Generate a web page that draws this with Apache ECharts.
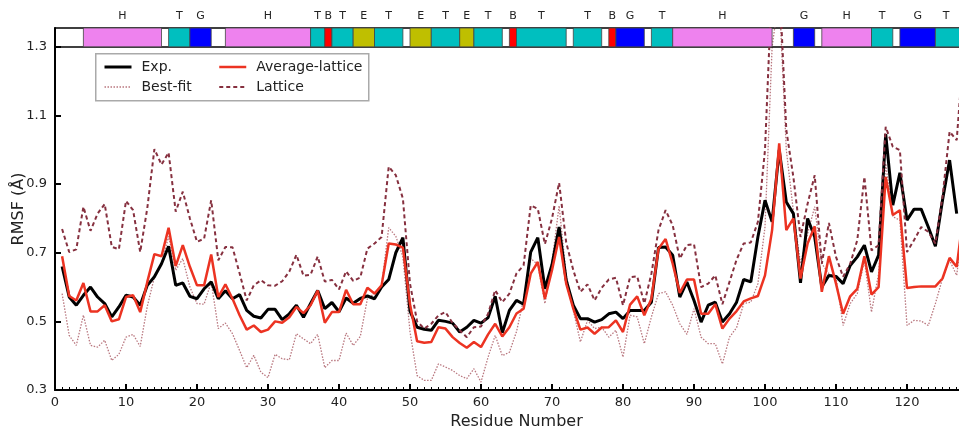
<!DOCTYPE html>
<html>
<head>
<meta charset="utf-8">
<title>RMSF</title>
<script src="https://cdn.jsdelivr.net/npm/echarts@6.0.0/dist/echarts.min.js"></script>
<style>
  html, body { margin: 0; padding: 0; background: #fff; }
  #ch { width: 959px; height: 426px; }
</style>
</head>
<body>
<div id="ch"></div>
<script>
// residue 1 is the first value of every series
var firstResidue = 1;

var expValues = [
  0.66, 0.571, 0.547, 0.576, 0.60, 0.571, 0.552, 0.513, 0.542, 0.576,
  0.571, 0.547, 0.605, 0.63, 0.668, 0.719, 0.605, 0.612, 0.573, 0.566,
  0.595, 0.615, 0.566, 0.589, 0.566, 0.578, 0.532, 0.515, 0.51, 0.535,
  0.535, 0.505, 0.522, 0.547, 0.512, 0.552, 0.59, 0.537, 0.555, 0.528,
  0.568, 0.553, 0.567, 0.574, 0.566, 0.60, 0.622, 0.70, 0.744, 0.53,
  0.483, 0.477, 0.474, 0.503, 0.50, 0.495, 0.469, 0.483, 0.503, 0.495,
  0.511, 0.573, 0.467, 0.532, 0.561, 0.55, 0.702, 0.744, 0.595, 0.665,
  0.775, 0.62, 0.547, 0.508, 0.508, 0.498, 0.505, 0.522, 0.527, 0.508,
  0.532, 0.532, 0.532, 0.556, 0.715, 0.717, 0.693, 0.571, 0.615, 0.561,
  0.498, 0.547, 0.556, 0.498, 0.522, 0.556, 0.622, 0.615, 0.746, 0.853,
  0.79, 1.0, 0.848, 0.814, 0.612, 0.80, 0.746, 0.60, 0.634, 0.631,
  0.61, 0.663, 0.688, 0.722, 0.644, 0.693, 1.046, 0.839, 0.933, 0.795,
  0.827, 0.827, 0.775, 0.719, 0.853, 0.97, 0.814
];

var bestFitValues = [
  0.581, 0.459, 0.43, 0.518, 0.43, 0.425, 0.445, 0.386, 0.404, 0.454,
  0.462, 0.427, 0.544, 0.629, 0.668, 0.748, 0.649, 0.683, 0.60, 0.552,
  0.55, 0.615, 0.479, 0.495, 0.464, 0.415, 0.365, 0.401, 0.352, 0.336,
  0.404, 0.391, 0.388, 0.464, 0.449, 0.435, 0.462, 0.365, 0.386, 0.386,
  0.466, 0.43, 0.456, 0.566, 0.581, 0.605, 0.773, 0.748, 0.688, 0.47,
  0.342, 0.328, 0.328, 0.376, 0.367, 0.357, 0.342, 0.333, 0.362, 0.323,
  0.396, 0.459, 0.40, 0.41, 0.47, 0.565, 0.683, 0.666, 0.552, 0.673,
  0.837, 0.635, 0.532, 0.44, 0.503, 0.479, 0.483, 0.454, 0.474, 0.396,
  0.518, 0.513, 0.435, 0.513, 0.581, 0.586, 0.547, 0.493, 0.462, 0.537,
  0.454, 0.435, 0.435, 0.376, 0.454, 0.482, 0.552, 0.556, 0.61, 0.775,
  1.3, 1.45, 1.0, 0.82, 0.668, 0.756, 0.834, 0.668, 0.639, 0.629,
  0.488, 0.552, 0.581, 0.678, 0.527, 0.639, 0.96, 0.805, 0.795, 0.488,
  0.503, 0.501, 0.488, 0.552, 0.625, 0.678, 0.634, 0.8
];

var avgLatticeValues = [
  0.69, 0.574, 0.561, 0.612, 0.529, 0.529, 0.547, 0.50, 0.506, 0.571,
  0.576, 0.527, 0.615, 0.696, 0.69, 0.773, 0.661, 0.722, 0.659, 0.605,
  0.605, 0.695, 0.571, 0.608, 0.566, 0.518, 0.476, 0.488, 0.469, 0.476,
  0.50, 0.496, 0.512, 0.542, 0.524, 0.547, 0.59, 0.496, 0.527, 0.527,
  0.592, 0.55, 0.55, 0.598, 0.581, 0.605, 0.727, 0.724, 0.715, 0.55,
  0.442, 0.438, 0.44, 0.483, 0.479, 0.454, 0.437, 0.423, 0.44, 0.425,
  0.462, 0.493, 0.456, 0.483, 0.523, 0.537, 0.639, 0.673, 0.566, 0.649,
  0.746, 0.61, 0.537, 0.476, 0.482, 0.464, 0.482, 0.483, 0.503, 0.469,
  0.549, 0.573, 0.518, 0.566, 0.712, 0.74, 0.668, 0.583, 0.622, 0.622,
  0.522, 0.522, 0.55, 0.479, 0.508, 0.53, 0.558, 0.567, 0.574, 0.634,
  0.766, 1.019, 0.766, 0.80, 0.625, 0.727, 0.777, 0.586, 0.69, 0.61,
  0.522, 0.573, 0.595, 0.69, 0.578, 0.60, 0.921, 0.81, 0.824, 0.597,
  0.60, 0.602, 0.602, 0.602, 0.625, 0.685, 0.659, 0.82
];

var latticeValues = [
  0.769, 0.702, 0.71, 0.834, 0.764, 0.814, 0.842, 0.717, 0.71, 0.851,
  0.824, 0.702, 0.83, 1.002, 0.957, 0.992, 0.82, 0.878, 0.80, 0.732,
  0.741, 0.853, 0.678, 0.717, 0.716, 0.64, 0.561, 0.605, 0.62, 0.605,
  0.604, 0.617, 0.645, 0.694, 0.633, 0.636, 0.689, 0.616, 0.621, 0.593,
  0.646, 0.618, 0.628, 0.712, 0.727, 0.746, 0.951, 0.926, 0.858, 0.61,
  0.50, 0.479, 0.493, 0.517, 0.527, 0.495, 0.474, 0.454, 0.483, 0.485,
  0.522, 0.591, 0.556, 0.581, 0.64, 0.663, 0.838, 0.828, 0.725, 0.80,
  0.904, 0.73, 0.649, 0.586, 0.608, 0.561, 0.598, 0.622, 0.627, 0.547,
  0.629, 0.631, 0.552, 0.639, 0.766, 0.824, 0.78, 0.683, 0.722, 0.725,
  0.60, 0.61, 0.634, 0.55, 0.615, 0.68, 0.727, 0.73, 0.79, 1.0,
  1.5, 1.5, 1.058, 0.92, 0.746, 0.843, 0.926, 0.668, 0.787, 0.688,
  0.63, 0.668, 0.737, 0.921, 0.707, 0.722, 1.067, 1.009, 0.999, 0.702,
  0.737, 0.775, 0.761, 0.727, 0.863, 1.053, 1.028, 1.3
];

// secondary structure strip (residue ranges)
var ssStart = [4, 16, 19, 24, 36, 38, 39, 42, 45, 50, 53, 57, 59, 64, 65, 73, 78, 79, 84, 87, 104, 108, 115, 119, 124];
var ssEnd   = [15, 19, 22, 36, 38, 39, 42, 45, 49, 53, 57, 59, 63, 65, 72, 77, 79, 83, 87, 101, 107, 115, 118, 124, 128];
var ssType  = ['H', 'T', 'G', 'H', 'T', 'B', 'T', 'E', 'T', 'E', 'T', 'E', 'T', 'B', 'T', 'T', 'B', 'G', 'T', 'H', 'G', 'H', 'T', 'G', 'T'];

var yTicks = [0.3, 0.5, 0.7, 0.9, 1.1, 1.3];
var xTickStep = 10;

var ssColors = { H: '#ee82ee', T: '#00bfbf', G: '#0000ff', B: '#ff0000', E: '#bfbf00' };
var yMin = 0.3, yMax = 1.355, xMax = 130, visibleMax = 127;
var font = 'DejaVu Sans';

var lineStyles = {
  'Exp.': { color: '#000', width: 3 },
  'Best-fit': { color: '#b9777f', width: 1.3, type: [1.5, 1.5] },
  'Average-lattice': { color: '#ec3322', width: 2.5 },
  'Lattice': { color: '#86303f', width: 2, type: [4, 3] }
};

function pairs(values) {
  return values.map(function (v, i) { return [firstResidue + i, v]; });
}

var chart = echarts.init(document.getElementById('ch'), null, { renderer: 'canvas' });

// legend columns share the same look
function legendCol(left, names) {
  return {
    left: left, top: 55, orient: 'vertical', itemGap: 6, z: 20,
    itemWidth: 27, itemHeight: 14,
    itemStyle: { opacity: 0 },
    data: names.map(function (n) {
      return { name: n, lineStyle: { width: lineStyles[n].width } };
    }),
    textStyle: { fontFamily: font, fontSize: 14, color: '#222', padding: [0, 0, 0, 5] }
  };
}

function lineSeries(name, values, z) {
  return {
    name: name, type: 'line', data: pairs(values),
    symbol: 'none', z: z,
    lineStyle: lineStyles[name], itemStyle: { color: lineStyles[name].color }
  };
}

var option = {
  animation: false,
  backgroundColor: '#fff',
  textStyle: { fontFamily: font },
  grid: { left: 55, right: -19, top: 28, bottom: 36, containLabel: false, outerBoundsMode: 'none' },
  legend: [legendCol(98, ['Exp.', 'Best-fit']), legendCol(213, ['Average-lattice', 'Lattice'])],
  graphic: [{
    type: 'rect', left: 95, top: 53, z: 1,
    shape: { width: 273, height: 47 },
    style: { fill: '#fff', stroke: '#aaa', lineWidth: 1.5 }
  }],
  xAxis: [{
    type: 'value', min: 0, max: xMax, interval: xTickStep,
    name: 'Residue Number', nameLocation: 'middle', nameGap: 22,
    nameTextStyle: { fontFamily: font, fontSize: 16, color: '#222' },
    axisLine: { lineStyle: { color: '#000', width: 2 } },
    axisTick: { inside: true, length: 6, lineStyle: { color: '#000', width: 2 } },
    minorTick: { show: true, splitNumber: 10, length: 3, lineStyle: { color: '#000', width: 1 } },
    axisLabel: { fontFamily: font, fontSize: 13, color: '#222', margin: 6, showMaxLabel: false },
    splitLine: { show: false }
  }, {
    type: 'value', min: 0, max: xMax, position: 'top',
    axisLine: { show: true, lineStyle: { color: '#000', width: 1.5 } },
    axisTick: { show: false }, axisLabel: { show: false }, splitLine: { show: false }
  }],
  yAxis: {
    type: 'value', min: yMin, max: yMax, interval: 0.2,
    name: 'RMSF (Å)', nameLocation: 'middle', nameGap: 28, nameRotate: 90,
    nameMoveOverlap: false,
    nameTextStyle: { fontFamily: font, fontSize: 16, color: '#222' },
    axisLine: { show: true, lineStyle: { color: '#000', width: 2 } },
    axisTick: { inside: true, length: 6, lineStyle: { color: '#000', width: 2 } },
    axisLabel: {
      fontFamily: font, fontSize: 13, color: '#222', margin: 8, showMaxLabel: false,
      formatter: function (v) { return yTicks.indexOf(Math.round(v * 10) / 10) >= 0 ? v.toFixed(1) : ''; }
    },
    splitLine: { show: false }
  },
  series: [
    lineSeries('Exp.', expValues, 3),
    lineSeries('Best-fit', bestFitValues, 2),
    lineSeries('Average-lattice', avgLatticeValues, 4),
    lineSeries('Lattice', latticeValues, 5),
    {
      name: 'ss', type: 'custom', z: 10, clip: false, silent: true,
      data: ssStart.map(function (s, i) { return [s, ssEnd[i]]; }),
      renderItem: function (params, api) {
        var t = ssType[params.dataIndex];
        var s = api.value(0), e = api.value(1);
        var p0 = api.coord([s, yMax]);
        var p1 = api.coord([e, 1.3]);
        var mid = api.coord([(s + Math.min(e, visibleMax)) / 2, yMax]);
        return {
          type: 'group',
          children: [{
            type: 'rect',
            shape: { x: p0[0], y: p0[1], width: p1[0] - p0[0], height: p1[1] - p0[1] },
            style: { fill: ssColors[t], stroke: '#444', lineWidth: 0.8 }
          }, {
            type: 'text',
            style: {
              text: t, x: mid[0], y: p0[1] - 12,
              textAlign: 'center', textVerticalAlign: 'middle',
              fill: '#222', font: '11px "DejaVu Sans"'
            }
          }]
        };
      },
      markLine: {
        silent: true, symbol: 'none', label: { show: false },
        lineStyle: { color: '#000', width: 1.5, type: 'solid' },
        data: [{ yAxis: 1.3 }]
      }
    }
  ]
};

chart.setOption(option);
</script>
</body>
</html>
